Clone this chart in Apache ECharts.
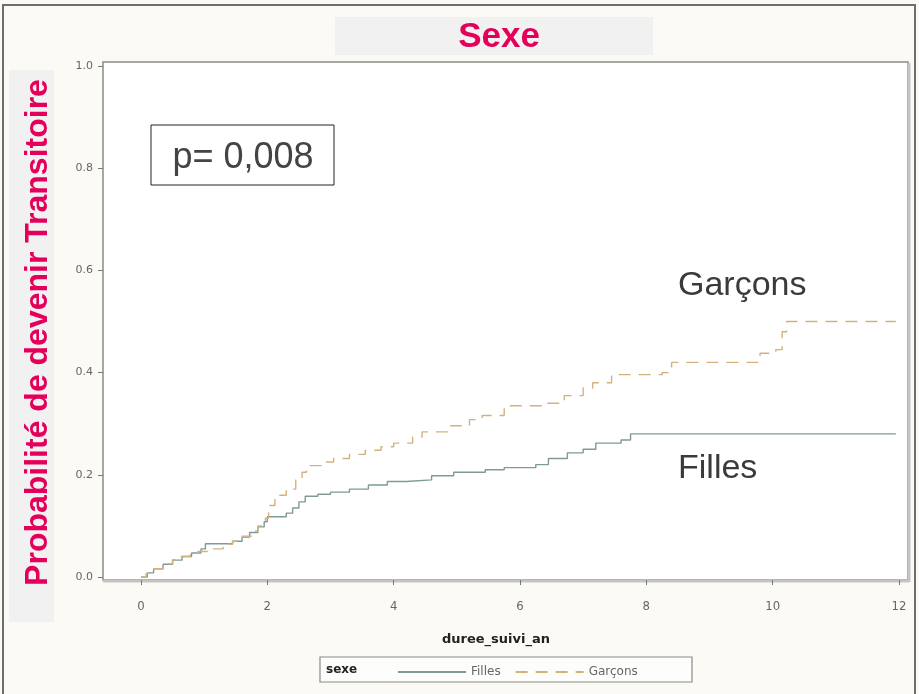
<!DOCTYPE html>
<html>
<head>
<meta charset="utf-8">
<script src="https://cdn.jsdelivr.net/npm/echarts@6/dist/echarts.min.js"></script>
<style>
html,body{margin:0;padding:0;background:#fcfaf4;}
#c{width:919px;height:694px;}
</style>
</head>
<body>
<div id="c"></div>
<script>
const xTicks = [0, 2, 4, 6, 8, 10, 12];
const yTicks = [0.0, 0.2, 0.4, 0.6, 0.8, 1.0];

const fillesTime = [0, 0.1, 0.2, 0.35, 0.5, 0.65, 0.8, 0.95, 1.02, 1.45, 1.6, 1.72, 1.85, 1.95, 2.0, 2.3, 2.4, 2.5, 2.6, 2.8, 3.0, 3.3, 3.6, 3.9, 4.2, 4.6, 4.95, 5.45, 5.75, 6.25, 6.45, 6.75, 7.0, 7.2, 7.6, 7.75, 11.95];
const fillesProb = [0, 0.008, 0.016, 0.025, 0.033, 0.040, 0.047, 0.055, 0.065, 0.070, 0.078, 0.087, 0.098, 0.108, 0.118, 0.125, 0.135, 0.147, 0.158, 0.162, 0.166, 0.172, 0.180, 0.187, 0.190, 0.198, 0.205, 0.210, 0.214, 0.220, 0.232, 0.243, 0.250, 0.262, 0.268, 0.280, 0.280];

const garconsTime = [0, 0.08, 0.2, 0.35, 0.5, 0.62, 0.78, 0.9, 1.05, 1.3, 1.45, 1.6, 1.75, 1.85, 1.97, 2.02, 2.12, 2.3, 2.45, 2.55, 2.62, 2.85, 3.05, 3.3, 3.55, 3.8, 4.0, 4.3, 4.45, 4.9, 5.2, 5.4, 5.75, 6.35, 6.7, 7.0, 7.15, 7.45, 8.25, 8.4, 9.8, 10.05, 10.15, 10.22, 11.95];
const garconsProb = [0, 0.007, 0.016, 0.026, 0.034, 0.040, 0.046, 0.050, 0.055, 0.064, 0.070, 0.080, 0.090, 0.100, 0.115, 0.140, 0.160, 0.172, 0.190, 0.205, 0.218, 0.225, 0.232, 0.240, 0.248, 0.255, 0.262, 0.274, 0.284, 0.296, 0.308, 0.316, 0.335, 0.340, 0.355, 0.370, 0.380, 0.396, 0.400, 0.420, 0.438, 0.445, 0.480, 0.500, 0.500];

const zip = (a, b) => a.map((v, i) => [v, b[i]]);

const chart = echarts.init(document.getElementById('c'));
chart.setOption({
  backgroundColor: '#fcfaf4',
  animation: false,
  title: {
    text: 'Sexe',
    left: 494,
    top: 15,
    textAlign: 'center',
    textStyle: {color: '#e4005a', fontSize: 35, fontWeight: 'bold', fontFamily: 'Liberation Sans'}
  },
  grid: {left: 141, right: 20, top: 66, bottom: 117},
  xAxis: {
    type: 'value', min: 0, max: 12, interval: 2, offset: 3,
    name: 'duree_suivi_an', nameLocation: 'middle', nameGap: 53,
    nameTextStyle: {color: '#222', fontSize: 13, fontWeight: 'bold', fontFamily: 'DejaVu Sans', padding: [0, 48, 0, 0]},
    axisLine: {show: false, onZero: false},
    axisTick: {show: true, length: 5, lineStyle: {color: '#777'}},
    axisLabel: {color: '#666', fontSize: 13, margin: 20, fontFamily: 'DejaVu Sans Condensed'},
    splitLine: {show: false}
  },
  yAxis: {
    type: 'value', min: 0, max: 1, interval: 0.2, offset: 38,
    name: 'Probabilité de devenir Transitoire', nameLocation: 'middle', nameRotate: 90, nameGap: 49,
    nameTextStyle: {color: '#e4005a', fontSize: 32, fontWeight: 'bold', fontFamily: 'Liberation Sans', padding: [0, 22, 0, 0]},
    axisLine: {show: false, onZero: false},
    axisTick: {show: true, length: 5, lineStyle: {color: '#777'}},
    axisLabel: {color: '#666', fontSize: 11, margin: 10, fontFamily: 'DejaVu Sans', formatter: v => v.toFixed(1)},
    splitLine: {show: false}
  },
  legend: {
    left: 392, top: 661, itemWidth: 68, itemHeight: 14, itemGap: 14,
    itemStyle: {opacity: 0},
    textStyle: {color: '#666', fontSize: 12, fontFamily: 'DejaVu Sans'},
    data: ['Filles', 'Garçons']
  },
  graphic: [
    {type: 'rect', z: -10, shape: {x: 3, y: 5, width: 912, height: 700}, style: {fill: '#fcfaf4', stroke: '#6e6e6e', lineWidth: 2}},
    {type: 'rect', z: -9, shape: {x: 335, y: 17, width: 318, height: 38}, style: {fill: '#f1f1f1'}},
    {type: 'rect', z: -9, shape: {x: 9, y: 70, width: 45, height: 552}, style: {fill: '#f1f1f1'}},
    {type: 'rect', z: -9, shape: {x: 103, y: 62, width: 805, height: 518}, style: {fill: '#ffffff', stroke: '#8a8a8a', lineWidth: 1.5}},
    {type: 'line', z: -8, shape: {x1: 103, y1: 581, x2: 909, y2: 581}, style: {stroke: '#c4c4c4', lineWidth: 3}},
    {type: 'line', z: -8, shape: {x1: 909, y1: 63, x2: 909, y2: 582}, style: {stroke: '#c4c4c4', lineWidth: 3}},
    {type: 'rect', z: -9, shape: {x: 320, y: 657, width: 372, height: 25}, style: {fill: '#fdfdfb', stroke: '#8a8a8a', lineWidth: 1.2}},
    {type: 'text', z: 5, x: 326, y: 670, style: {text: 'sexe', fill: '#222', font: 'bold 12px "DejaVu Sans"', textVerticalAlign: 'middle'}},
    {type: 'rect', z: 5, shape: {x: 151, y: 125, width: 183, height: 60}, style: {fill: '#ffffff', stroke: '#222', lineWidth: 1}},
    {type: 'text', z: 6, x: 243, y: 158, style: {text: 'p= 0,008', fill: '#444', font: '36px "Liberation Sans"', textAlign: 'center', textVerticalAlign: 'middle'}},
    {type: 'text', z: 6, x: 678, y: 286, style: {text: 'Garçons', fill: '#3a3a3a', font: '34px "Liberation Sans"', textVerticalAlign: 'middle'}},
    {type: 'text', z: 6, x: 678, y: 469, style: {text: 'Filles', fill: '#3a3a3a', font: '34px "Liberation Sans"', textVerticalAlign: 'middle'}}
  ],
  series: [
    {
      name: 'Filles', type: 'line', step: 'end', symbol: 'none',
      data: zip(fillesTime, fillesProb),
      lineStyle: {color: '#7f9a97', width: 1.4, type: 'solid'},
      itemStyle: {color: '#7f9a97'}
    },
    {
      name: 'Garçons', type: 'line', step: 'end', symbol: 'none',
      data: zip(garconsTime, garconsProb),
      lineStyle: {color: '#d2b27c', width: 1.4, type: [12, 8]},
      itemStyle: {color: '#d2b27c'}
    }
  ]
});
</script>
</body>
</html>
